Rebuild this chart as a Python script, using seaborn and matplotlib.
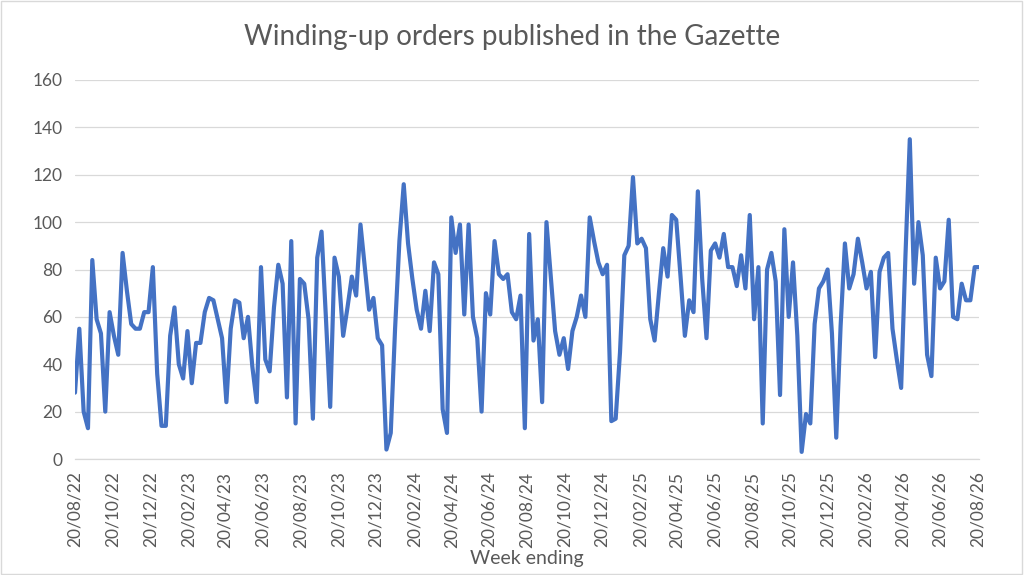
import matplotlib
matplotlib.use("Agg")
import matplotlib.pyplot as plt
import matplotlib.dates as mdates
import matplotlib.patches as patches
import pandas as pd
import seaborn as sns

# weekly counts (week ending 20/08/22 onwards)
orders = [
    28, 55, 20, 13, 84, 59, 53, 20, 62, 52, 44, 87, 71, 57, 55, 55, 62, 62, 81, 36,
    14, 14, 52, 64, 40, 34, 54, 32, 49, 49, 62, 68, 67, 59, 51, 24, 55, 67, 66, 51,
    60, 39, 24, 81, 42, 37, 64, 82, 74, 26, 92, 15, 76, 74, 59, 17, 85, 96, 60, 22,
    85, 77, 52, 64, 77, 69, 99, 81, 63, 68, 51, 48, 4, 11, 55, 92, 116, 91, 76, 63,
    55, 71, 54, 83, 78, 21, 11, 102, 87, 99, 61, 99, 60, 51, 20, 70, 61, 92, 78, 76,
    78, 62, 59, 69, 13, 95, 50, 59, 24, 100, 77, 54, 44, 51, 38, 54, 60, 69, 60, 102,
    92, 83, 78, 82, 16, 17, 45, 86, 90, 119, 91, 93, 89, 59, 50, 70, 89, 77, 103, 101,
    77, 52, 67, 62, 113, 76, 51, 88, 91, 85, 95, 81, 81, 73, 86, 72, 103, 59, 81, 15,
    80, 87, 75, 27, 97, 60, 83, 52, 3, 19, 15, 57, 72, 75, 80, 53, 9, 56, 91, 72,
    78, 93, 83, 72, 79, 43, 79, 85, 87, 55, 42, 30, 86, 135, 74, 100, 86, 44, 35, 85,
    72, 75, 101, 60, 59, 74, 67, 67, 81, 81,
]
weeks = pd.date_range("2022-08-20", periods=len(orders), freq="7D")
# axis ticks every two months on the 20th
tick_dates = [pd.Timestamp("2022-08-20") + pd.DateOffset(months=2 * i) for i in range(25)]
y_ticks = list(range(0, 161, 20))

TEXT = "#595959"
GRID = "#D9D9D9"
LINE = "#4472C4"

sns.set_style("white")
plt.rcParams["font.family"] = ["Lato", "DejaVu Sans"]

df = pd.DataFrame({"week": weeks, "orders": orders})

fig = plt.figure(figsize=(10.24, 5.75), dpi=100)
ax = fig.add_axes([75 / 1024, 1 - 459 / 575, (979 - 75) / 1024, (459 - 80) / 575])

sns.lineplot(data=df, x="week", y="orders", ax=ax, color=LINE, linewidth=3.0)

ax.set_ylim(0, 160)
ax.set_yticks(y_ticks)
ax.set_xlim(weeks[0], weeks[-1])
ax.set_xticks(tick_dates)
ax.xaxis.set_major_formatter(mdates.DateFormatter("%d/%m/%y"))
ax.tick_params(axis="x", rotation=90, colors=TEXT, labelsize=12.5, length=5, width=0.8, color=GRID, pad=4)
ax.tick_params(axis="y", colors=TEXT, labelsize=12.5, length=0, pad=9)
ax.grid(axis="y", color=GRID, linewidth=0.9)
ax.set_axisbelow(True)
for side in ["left", "right", "top"]:
    ax.spines[side].set_visible(False)
ax.spines["bottom"].set_color(GRID)
ax.spines["bottom"].set_linewidth(0.9)

ax.set_ylabel("")
ax.set_xlabel("Week ending", color=TEXT, fontsize=14, labelpad=2)
fig.text(0.5, 1 - 37 / 575, "Winding-up orders published in the Gazette",
         ha="center", va="center", color=TEXT, fontsize=20)

# thin chart border like the spreadsheet export
fig.patches.append(patches.Rectangle((0.001, 0.002), 0.997, 0.996, transform=fig.transFigure,
                                     fill=False, edgecolor=GRID, linewidth=1))

fig.savefig("out.png", dpi=100)
